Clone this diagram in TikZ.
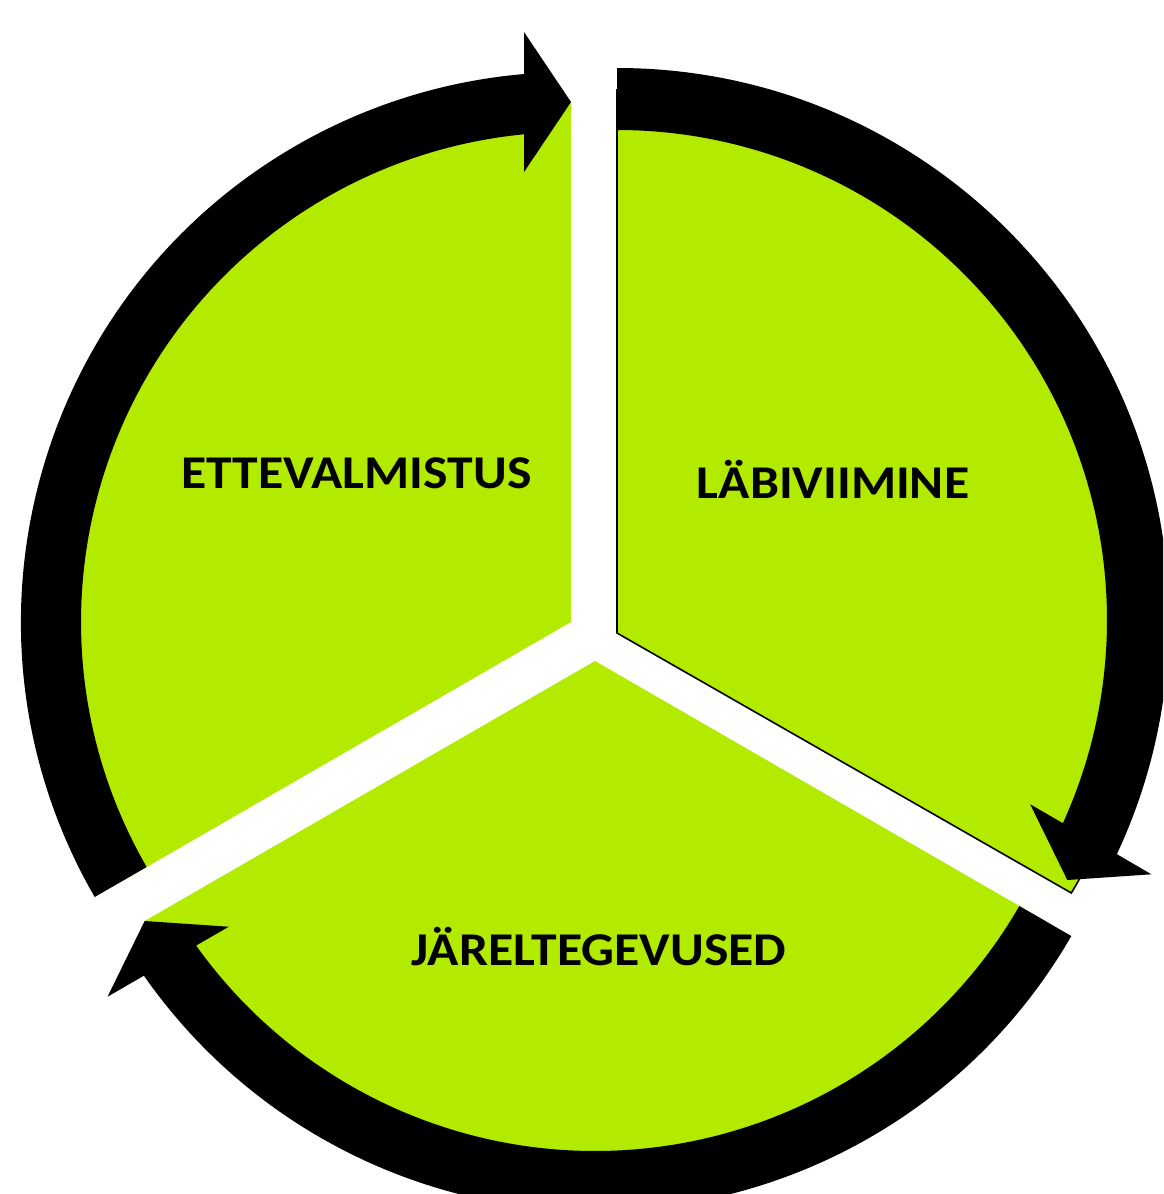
\documentclass[tikz,border=0pt]{standalone}
\usepackage{fontspec}
\setmainfont{Carlito}
\definecolor{lime}{RGB}{178,235,0}
\tikzset{
  sector/.style={fill=lime},
  outlinedsector/.style={fill=lime, draw=black, line width=1.6pt, line join=miter},
  band/.style={fill=black},
  label/.style={font=\fontsize{47}{52}\selectfont\bfseries, text=black, anchor=base, inner sep=0pt, xscale=1.1, transform shape}
}
\begin{document}
\begin{tikzpicture}[x=1pt,y=1pt]
\useasboundingbox (0,0) rectangle (1163,-1194);
\clip (0,0) rectangle (1163,-1194);
% green sectors
\begin{scope}[shift={(571,-622)}]
  \fill[sector] (0,0) -- (90:520) arc[start angle=90, end angle=210, radius=520] -- cycle;
\end{scope}
\begin{scope}[shift={(595,-661)}]
  \fill[sector] (0,0) -- (210:520) arc[start angle=210, end angle=330, radius=520] -- cycle;
\end{scope}
\path[outlinedsector] (617,-633) -- (617,-90) arc[start angle=90, end angle=-31, radius=530] -- cycle;
% black circular arrows
\begin{scope}[shift={(571,-622)}]
  \fill[band] (210:550) arc[start angle=210, end angle=94.9, radius=550] -- (-47,590) -- (0,520) -- (-47,450) -- (95.5:490) arc[start angle=95.5, end angle=210, radius=490] -- cycle;
\end{scope}
\begin{scope}[shift={(617,-620)}, rotate=-120]
  \fill[band] (210:552) arc[start angle=210, end angle=94.9, radius=552] -- (-47,590) -- (0,520) -- (-47,450) -- (95.5:490) arc[start angle=95.5, end angle=210, radius=490] -- cycle;
\end{scope}
\begin{scope}[shift={(595,-661)}, rotate=120]
  \fill[band] (210:550) arc[start angle=210, end angle=94.9, radius=550] -- (-47,590) -- (0,520) -- (-47,450) -- (95.5:490) arc[start angle=95.5, end angle=210, radius=490] -- cycle;
\end{scope}
% labels
\node[label] (t1) at (356.5,-488) {ETTEVALMISTUS};
\node[label] (t2) at (833,-498) {LÄBIVIIMINE};
\node[label] (t3) at (599,-965) {JÄRELTEGEVUSED};
\end{tikzpicture}
\end{document}
